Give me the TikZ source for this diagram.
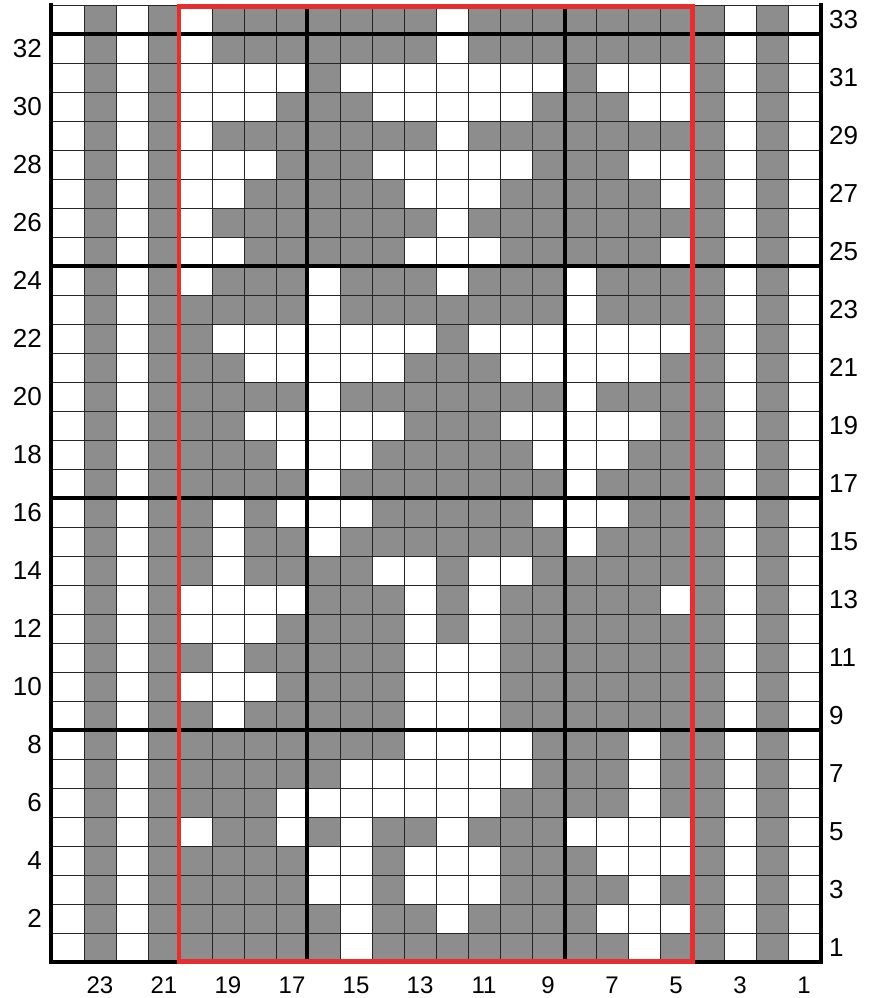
\documentclass[tikz,border=0pt]{standalone}
\usepackage{fontspec}
\setmainfont{Liberation Sans}
\definecolor{cellgray}{RGB}{141,141,141}
\definecolor{framered}{RGB}{229,46,46}
\begin{document}
\begin{tikzpicture}[x=1pt,y=-1pt,
  cellfill/.style={fill=cellgray},
  thingrid/.style={draw=black!85, line width=0.8pt},
  thickrule/.style={draw=black, line width=4.5pt},
  redframe/.style={draw=framered, line width=4.5pt},
  sidelab/.style={inner sep=0pt, font=\fontsize{26}{26}\selectfont},
  botlab/.style={inner sep=0pt, font=\fontsize{24}{24}\selectfont}]
\useasboundingbox (0,0) rectangle (880,998);
\fill[white] (0,0) rectangle (880,998);
\def\H{29}
% constant outer columns (23, 21, 4, 2)
\foreach \xx in {84,148,692,756} {
  \fill[cellfill] (\xx,5) rectangle ++(32,957);
}
% interior cells, columns 20..5
\foreach \r/\cells in {
 33/{0,1,1,1,1,1,1,1,0,1,1,1,1,1,1,1},
 32/{0,1,1,1,1,1,1,1,0,1,1,1,1,1,1,1},
 31/{0,0,0,0,1,0,0,0,0,0,0,0,1,0,0,0},
 30/{0,0,0,1,1,1,0,0,0,0,0,1,1,1,0,0},
 29/{0,1,1,1,1,1,1,1,0,1,1,1,1,1,1,1},
 28/{0,0,0,1,1,1,0,0,0,0,0,1,1,1,0,0},
 27/{0,0,1,1,1,1,1,0,0,0,1,1,1,1,1,0},
 26/{0,1,1,1,1,1,1,1,0,1,1,1,1,1,1,1},
 25/{0,0,1,1,1,1,1,0,0,0,1,1,1,1,1,0},
 24/{0,1,1,1,0,1,1,1,0,1,1,1,0,1,1,1},
 23/{1,1,1,1,0,1,1,1,1,1,1,1,0,1,1,1},
 22/{1,0,0,0,0,0,0,0,1,0,0,0,0,0,0,0},
 21/{1,1,0,0,0,0,0,1,1,1,0,0,0,0,0,1},
 20/{1,1,1,1,0,1,1,1,1,1,1,1,0,1,1,1},
 19/{1,1,0,0,0,0,0,1,1,1,0,0,0,0,0,1},
 18/{1,1,1,0,0,0,1,1,1,1,1,0,0,0,1,1},
 17/{1,1,1,1,0,1,1,1,1,1,1,1,0,1,1,1},
 16/{1,0,1,0,0,0,1,1,1,1,1,0,0,0,1,1},
 15/{1,0,1,1,0,1,1,1,1,1,1,1,0,1,1,1},
 14/{1,0,1,1,1,1,0,0,1,0,0,1,1,1,1,1},
 13/{0,0,0,0,1,1,1,0,1,0,1,1,1,1,1,0},
 12/{0,0,0,1,1,1,1,0,1,0,1,1,1,1,1,1},
 11/{1,0,1,1,1,1,1,0,0,0,1,1,1,1,1,1},
 10/{0,0,0,1,1,1,1,0,0,0,1,1,1,1,1,1},
 9/{1,0,1,1,1,1,1,0,0,0,1,1,1,1,1,1},
 8/{1,1,1,1,1,1,1,0,0,0,0,1,1,1,0,1},
 7/{1,1,1,1,1,0,0,0,0,0,0,1,1,1,0,1},
 6/{1,1,1,0,0,0,0,0,0,0,1,1,1,1,0,1},
 5/{0,1,1,0,1,0,1,1,0,1,1,1,0,0,0,0},
 4/{1,1,1,1,0,0,1,0,0,0,1,1,1,0,0,0},
 3/{1,1,1,1,0,0,1,0,0,0,1,1,1,1,0,1},
 2/{1,1,1,1,1,0,1,1,0,1,1,1,1,0,0,0},
 1/{1,1,1,1,1,0,1,1,1,1,1,1,1,1,0,1}} {
  \foreach \c [count=\i] in \cells {
    \ifnum\c=1
      \fill[cellfill] ({180+(\i-1)*32},{962-\r*\H}) rectangle ++(32,\H);
    \fi
  }
}
% thin grid
\foreach \k in {0,...,24} {
  \draw[thingrid] ({52+\k*32},5) -- ({52+\k*32},962);
}
\foreach \k in {0,...,33} {
  \draw[thingrid] (52,{962-\k*\H}) -- (820,{962-\k*\H});
}
% thick rules
\foreach \k in {8,16,24,32} {
  \draw[thickrule] (52,{962-\k*\H}) -- (820,{962-\k*\H});
}
\draw[thickrule] (307,5) -- (307,962);
\draw[thickrule] (565,5) -- (565,962);
\draw[thickrule] (51,3) -- (51,964.25);
\draw[thickrule] (821,3) -- (821,964.25);
\draw[thickrule] (48.75,962) -- (823.25,962);
% red frame
\draw[redframe] (179,6.5) rectangle (692.5,961.5);
% labels
\foreach \r in {2,4,...,32} {
  \node[sidelab, anchor=east] (L\r) at (42,{962-(\r-0.5)*\H}) {\r};
}
\foreach \r in {1,3,...,33} {
  \node[sidelab, anchor=west] (R\r) at (829,{962-(\r-0.5)*\H}) {\r};
}
\foreach \c in {1,3,...,23} {
  \node[botlab] (B\c) at ({52+(24-\c)*32+16},985) {\c};
}
\end{tikzpicture}
\end{document}
